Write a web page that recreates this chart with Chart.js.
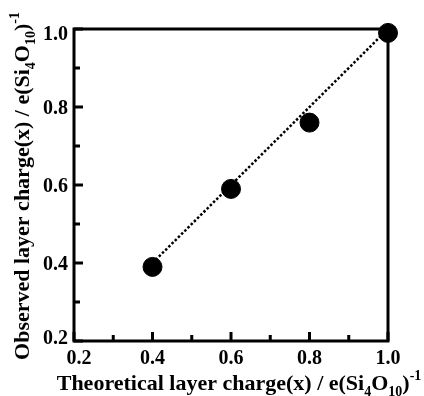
<!DOCTYPE html>
<html>
<head>
<meta charset="utf-8">
<script src="https://cdn.jsdelivr.net/npm/chart.js@4.4.1/dist/chart.umd.min.js"></script>
<style>
  html, body { margin: 0; padding: 0; background: #fff; }
</style>
</head>
<body>
<canvas id="layerChart" width="424" height="396"></canvas>
<script>
// theoretical vs observed layer charge
const theoretical = [0.4, 0.6, 0.8, 1.0];
const observed = [0.39, 0.59, 0.76, 0.99];
const lineX = [0.4, 1.0];
const lineY = [0.4, 1.0];
const majorTicks = [0.2, 0.4, 0.6, 0.8, 1.0];
const minorTicks = [0.3, 0.5, 0.7, 0.9];

// axis titles as runs: n = normal, b = subscript, p = superscript
const xTitle = [["Theoretical layer charge(x) / e(Si", "n"], ["4", "b"], ["O", "n"], ["10", "b"], [")", "n"], ["-1", "p"]];
const yTitle = [["Observed layer charge(x) / e(Si", "n"], ["4", "b"], ["O", "n"], ["10", "b"], [")", "n"], ["-1", "p"]];

const FONT = "'Liberation Serif', 'Times New Roman', serif";

function runFont(kind, size) {
    const s = kind === "n" ? size : Math.round(size * 0.65);
    return "bold " + s + "px " + FONT;
}

function runsWidth(ctx, runs, size) {
    let w = 0;
    runs.forEach(function (r) {
        ctx.font = runFont(r[1], size);
        w += ctx.measureText(r[0]).width;
    });
    return w;
}

function drawRuns(ctx, runs, size) {
    // centred at (0,0), on the baseline
    let x = -runsWidth(ctx, runs, size) / 2;
    ctx.textBaseline = "alphabetic";
    ctx.textAlign = "left";
    runs.forEach(function (r) {
        ctx.font = runFont(r[1], size);
        let dy = 0;
        if (r[1] === "b") dy = size * 0.25;
        if (r[1] === "p") dy = -size * 0.45;
        ctx.fillText(r[0], x, dy);
        x += ctx.measureText(r[0]).width;
    });
}

const framePlugin = {
    id: "frame",
    beforeDatasetsDraw: function (chart) {
        const ctx = chart.ctx;
        const a = chart.chartArea;
        const xs = chart.scales.x;
        const ys = chart.scales.y;
        ctx.save();
        ctx.strokeStyle = "#000";
        ctx.lineWidth = 3;
        ctx.strokeRect(a.left, a.top, a.right - a.left, a.bottom - a.top);

        // inward ticks, bottom and left only
        ctx.beginPath();
        majorTicks.forEach(function (v) {
            const px = xs.getPixelForValue(v);
            ctx.moveTo(px, a.bottom);
            ctx.lineTo(px, a.bottom - 9);
            const py = ys.getPixelForValue(v);
            ctx.moveTo(a.left, py);
            ctx.lineTo(a.left + 9, py);
        });
        minorTicks.forEach(function (v) {
            const px = xs.getPixelForValue(v);
            ctx.moveTo(px, a.bottom);
            ctx.lineTo(px, a.bottom - 6);
            const py = ys.getPixelForValue(v);
            ctx.moveTo(a.left, py);
            ctx.lineTo(a.left + 6, py);
        });
        ctx.stroke();

        // tick labels, end ones nudged inward like the original
        ctx.fillStyle = "#000";
        ctx.font = "bold 20px " + FONT;
        ctx.textBaseline = "alphabetic";
        ctx.textAlign = "center";
        majorTicks.forEach(function (v, i) {
            let px = xs.getPixelForValue(v);
            if (i === 0) px += 5;
            ctx.fillText(v.toFixed(1), px, a.bottom + 23);
        });
        ctx.textAlign = "right";
        majorTicks.forEach(function (v, i) {
            let py = ys.getPixelForValue(v);
            if (i === 0) py -= 4;
            if (i === majorTicks.length - 1) py += 4;
            ctx.fillText(v.toFixed(1), a.left - 6, py + 7);
        });

        ctx.save();
        ctx.translate(239, 390);
        drawRuns(ctx, xTitle, 22);
        ctx.restore();

        ctx.save();
        ctx.translate(29, 186);
        ctx.rotate(-Math.PI / 2);
        drawRuns(ctx, yTitle, 22);
        ctx.restore();
        ctx.restore();
    }
};

new Chart(document.getElementById("layerChart"), {
    type: "scatter",
    data: {
        datasets: [
            {
                label: "fit",
                data: lineX.map(function (x, i) { return { x: x, y: lineY[i] }; }),
                showLine: true,
                borderColor: "#000",
                borderWidth: 2.5,
                borderDash: [2.5, 2],
                pointRadius: 0,
                clip: false,
                order: 2,
            },
            {
                label: "observed",
                data: theoretical.map(function (x, i) { return { x: x, y: observed[i] }; }),
                backgroundColor: "#000",
                borderColor: "#000",
                pointRadius: 9.5,
                pointHoverRadius: 9.5,
                clip: false,
                order: 1,
            },
        ],
    },
    options: {
        responsive: false,
        animation: false,
        events: [],
        layout: {
            padding: { top: 29, right: 36, left: 0, bottom: 0 },
        },
        plugins: {
            legend: { display: false },
            tooltip: { enabled: false },
        },
        scales: {
            x: {
                type: "linear",
                min: 0.2,
                max: 1.0,
                afterFit: function (scale) { scale.height = 55; },
                grid: { display: false, drawTicks: false },
                border: { display: false },
                ticks: { display: false, stepSize: 0.2 },
            },
            y: {
                type: "linear",
                min: 0.2,
                max: 1.0,
                afterFit: function (scale) { scale.width = 74; },
                grid: { display: false, drawTicks: false },
                border: { display: false },
                ticks: { display: false, stepSize: 0.2 },
            },
        },
    },
    plugins: [framePlugin],
});
</script>
</body>
</html>
